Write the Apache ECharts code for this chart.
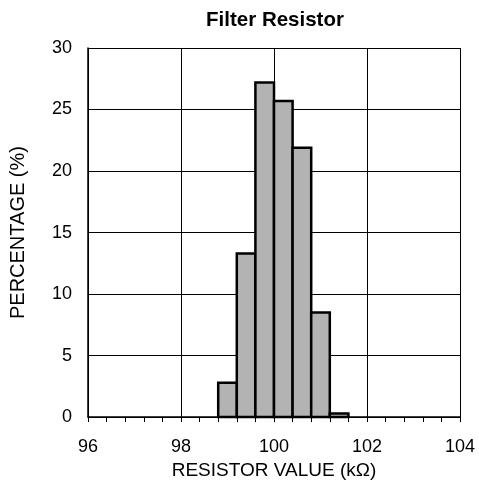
<!DOCTYPE html>
<html>
<head>
<meta charset="utf-8">
<script src="https://cdn.jsdelivr.net/npm/echarts@6/dist/echarts.min.js"></script>
<style>
html,body{margin:0;padding:0;background:#fff;}
#chart{width:479px;height:485px;}
</style>
</head>
<body>
<div id="chart"></div>
<script>
// Histogram data (resistor value bins in kΩ, percentage of units)
var binStarts = [98.8, 99.2, 99.6, 100.0, 100.4, 100.8, 101.2];
var binEnds   = [99.2, 99.6, 100.0, 100.4, 100.8, 101.2, 101.6];
var percentages = [2.8, 13.3, 27.2, 25.7, 21.9, 8.5, 0.3];
var xTicks = [96, 98, 100, 102, 104];
var yTicks = [0, 5, 10, 15, 20, 25, 30];

var data = binStarts.map(function (s, i) { return [s, binEnds[i], percentages[i]]; });

var chart = echarts.init(document.getElementById('chart'), null, {renderer: 'canvas'});
var font = 'Liberation Sans, Arial, Helvetica, sans-serif';
chart.setOption({
  animation: false,
  backgroundColor: '#fff',
  title: {
    text: 'Filter Resistor',
    left: 270, top: 5, textAlign: 'center',
    textStyle: {fontFamily: font, fontSize: 20.5, fontWeight: 'bold', color: '#000'}
  },
  grid: {left: 88, right: 19, top: 48, bottom: 67},
  xAxis: {
    type: 'value',
    min: xTicks[0], max: xTicks[xTicks.length - 1], interval: 2,
    name: 'RESISTOR VALUE (kΩ)', nameLocation: 'middle', nameGap: 35,
    nameTextStyle: {fontFamily: font, fontSize: 19, color: '#000'},
    axisLine: {show: true, onZero: false, lineStyle: {color: '#000', width: 1.5}},
    axisTick: {show: true, inside: false, length: 5, lineStyle: {color: '#000', width: 1}},
    minorTick: {show: true, splitNumber: 5, length: 5, lineStyle: {color: '#000', width: 1}},
    splitLine: {show: true, lineStyle: {color: '#000', width: 1}},
    axisLabel: {margin: 21, fontFamily: font, fontSize: 18, color: '#000'}
  },
  yAxis: {
    type: 'value',
    min: yTicks[0], max: yTicks[yTicks.length - 1], interval: 5,
    name: 'PERCENTAGE (%)', nameLocation: 'middle', nameGap: 60,
    nameTextStyle: {fontFamily: font, fontSize: 20, color: '#000'},
    axisLine: {show: true, lineStyle: {color: '#000', width: 1.5}},
    axisTick: {show: false},
    splitLine: {show: true, lineStyle: {color: '#000', width: 1}},
    axisLabel: {margin: 16, fontFamily: font, fontSize: 18, color: '#000'}
  },
  series: [{
    type: 'custom',
    data: data,
    encode: {x: [0, 1], y: 2},
    renderItem: function (params, api) {
      var p0 = api.coord([api.value(0), api.value(2)]);
      var p1 = api.coord([api.value(1), 0]);
      return {
        type: 'rect',
        shape: {x: p0[0], y: p0[1], width: p1[0] - p0[0], height: p1[1] - p0[1]},
        style: {fill: '#b3b3b3', stroke: '#000', lineWidth: 2.5}
      };
    }
  }]
});
</script>
</body>
</html>
